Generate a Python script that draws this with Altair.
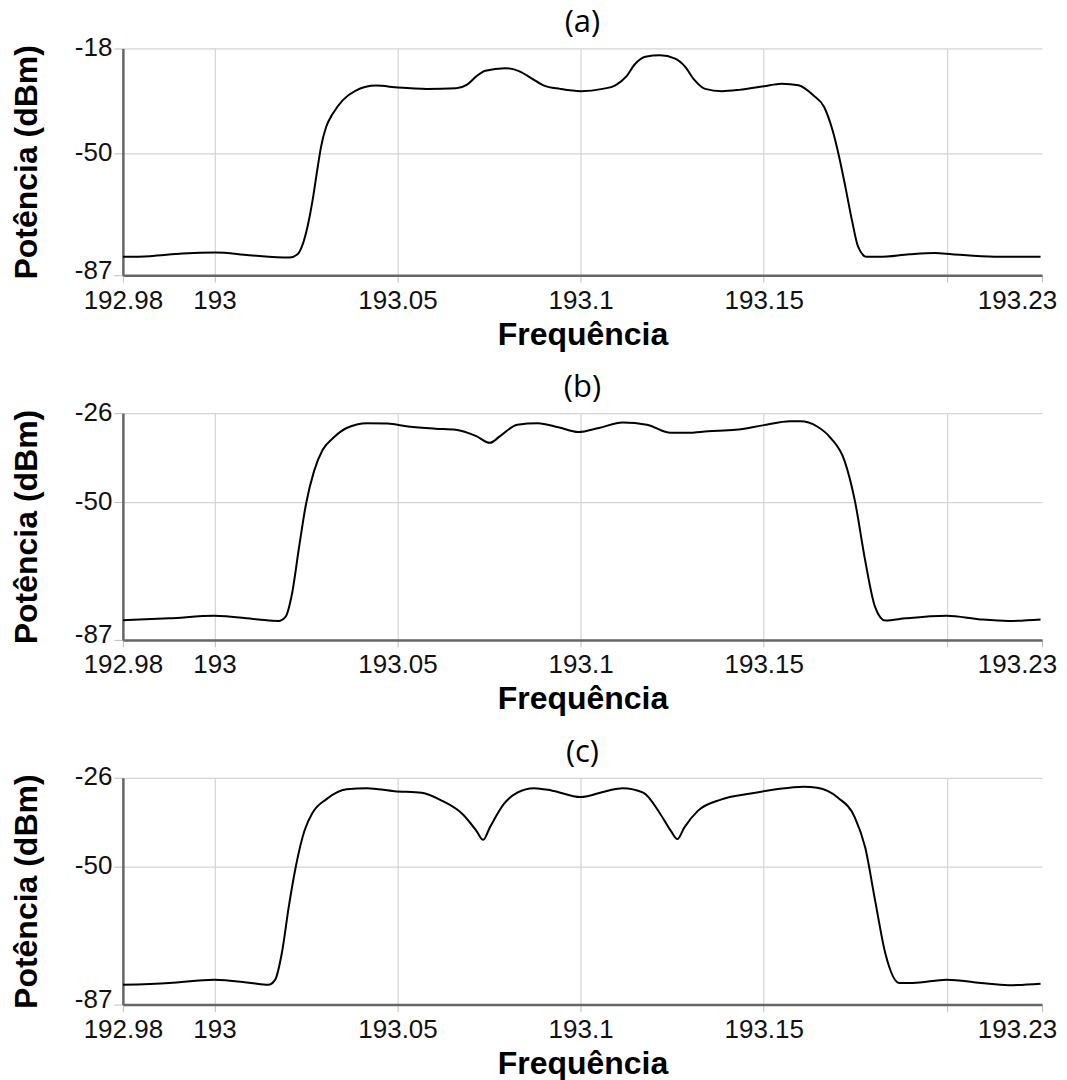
import altair as alt
import pandas as pd

# ---------------- data ----------------
freq_a = [192.975, 192.9823, 192.9913, 193.0003, 193.0095, 193.0205, 193.0227, 193.024, 193.0254,
          193.0268, 193.0282, 193.0291, 193.0305, 193.0323, 193.035, 193.0386, 193.0441, 193.0502,
          193.058, 193.066, 193.069, 193.0715, 193.074, 193.0793, 193.083, 193.0865, 193.09,
          193.0944, 193.1, 193.106, 193.1095, 193.1125, 193.1148, 193.1177, 193.1217, 193.1258,
          193.1285, 193.131, 193.134, 193.1386, 193.1433, 193.15, 193.1549, 193.1595, 193.1636,
          193.1665, 193.1688, 193.1706, 193.1723, 193.1741, 193.1758, 193.1781, 193.1816, 193.1898,
          193.1967, 193.2014, 193.213, 193.2256]
pow_a = [-81.4, -81.2, -80.4, -80.1, -80.9, -81.6, -80.6, -77.9, -72.3,
         -64.2, -54.1, -48.0, -41.9, -37.9, -33.8, -30.8, -29.3, -29.9,
         -30.3, -30.1, -29.0, -26.5, -24.8, -24.0, -24.8, -27.0, -29.3,
         -30.3, -31.0, -30.3, -29.2, -26.5, -22.8, -20.5, -20.1, -21.1,
         -23.5, -27.5, -30.3, -31.0, -30.6, -29.5, -28.7, -29.2, -32.3,
         -35.8, -42.9, -51.0, -60.1, -70.3, -78.4, -81.4, -81.4, -80.6,
         -80.2, -80.6, -81.4, -81.4]

freq_b = [192.975, 192.9877, 193.0, 193.0119, 193.0175, 193.0194, 193.0212, 193.0231, 193.025,
          193.0272, 193.0296, 193.0324, 193.0361, 193.0417, 193.0473, 193.0529, 193.0603, 193.0659,
          193.0715, 193.0752, 193.078, 193.0827, 193.0883, 193.0939, 193.0994, 193.105, 193.1115,
          193.1181, 193.1246, 193.1292, 193.1348, 193.1423, 193.1497, 193.1572, 193.16, 193.1646,
          193.1683, 193.1721, 193.1749, 193.1777, 193.1804, 193.1832, 193.1888, 193.2, 193.2093,
          193.2168, 193.2256]
pow_b = [-81.7, -81.2, -80.5, -81.5, -81.9, -80.8, -74.5, -62.1, -50.5,
         -41.6, -35.8, -32.7, -30.0, -28.7, -28.8, -29.6, -30.2, -30.5,
         -32.2, -34.0, -32.2, -29.1, -28.7, -29.8, -31.1, -30.0, -28.5,
         -29.1, -31.3, -31.3, -30.9, -30.5, -29.3, -28.2, -28.2, -29.6,
         -32.7, -38.9, -49.6, -65.6, -78.1, -81.8, -81.2, -80.5, -81.5,
         -81.9, -81.5]

freq_c = [192.975, 192.9877, 193.0, 193.01, 193.0147, 193.0166, 193.0184, 193.0203, 193.0222,
          193.0246, 193.0268, 193.0305, 193.0361, 193.0417, 193.0492, 193.0566, 193.0622, 193.0678,
          193.0715, 193.0734, 193.0752, 193.079, 193.0827, 193.0873, 193.092, 193.1, 193.1069,
          193.1115, 193.1171, 193.1218, 193.1246, 193.1264, 193.1283, 193.132, 193.1385, 193.146,
          193.1534, 193.1609, 193.1646, 193.1702, 193.1749, 193.1777, 193.1804, 193.1832, 193.187,
          193.1907, 193.2, 193.2093, 193.2168, 193.2256]
pow_c = [-81.7, -81.2, -80.3, -81.2, -81.7, -80.3, -73.2, -60.7, -50.0,
         -40.2, -35.4, -31.8, -29.1, -28.8, -29.6, -30.0, -32.2, -35.8,
         -40.2, -42.7, -39.4, -33.1, -30.0, -28.8, -29.4, -31.2, -29.6,
         -28.8, -30.0, -35.8, -40.2, -42.5, -39.4, -34.9, -31.8, -30.3,
         -29.1, -28.4, -28.7, -31.3, -36.7, -44.7, -58.9, -73.2, -81.2,
         -81.2, -80.3, -81.2, -81.8, -81.4]

panel_titles = ["(a)", "(b)", "(c)"]
y_tops = [-18, -26, -26]
y_bottom = -87
x_domain = [192.975, 193.226]
x_ticks = [192.975, 193.0, 193.05, 193.1, 193.15, 193.2, 193.226]

label_expr = ("datum.value < 192.99 ? '192.98' : datum.value > 193.22 ? '193.23' : "
              "abs(datum.value - 193.2) < 0.001 ? '' : datum.label")


def panel(freq, power, title, top):
    df = pd.DataFrame({"f": freq, "p": power})
    return alt.Chart(df).mark_line(
        color="black", strokeWidth=2, interpolate="monotone", clip=True
    ).encode(
        x=alt.X(
            "f:Q",
            scale=alt.Scale(domain=x_domain, nice=False, zero=False),
            axis=alt.Axis(
                values=x_ticks,
                format=".6~f",
                title="Frequência",
                labelExpr=label_expr,
                labelFlush=False,
                labelOverlap=False,
                labelOffset={"condition": {"test": "datum.value > 193.22", "value": -25},
                             "value": 0},
                gridColor={"condition": {"test": "datum.value > 193.22", "value": "transparent"},
                           "value": "#d4d4d4"},
                tickSize=7,
                labelPadding=5,
                titlePadding=6,
            ),
        ),
        y=alt.Y(
            "p:Q",
            scale=alt.Scale(domain=[y_bottom, top], nice=False, zero=False),
            axis=alt.Axis(
                values=[y_bottom, -50, top],
                labelExpr="'' + datum.value",
                title="Potência (dBm)",
                labelFlush=False,
                labelOverlap=False,
                labelOffset={"condition": {"test": "datum.value < -80", "value": -5},
                             "value": -1},
                tickSize=9,
                labelPadding=2,
                titlePadding=31,
            ),
        ),
    ).properties(
        width=920,
        height=227,
        title=alt.TitleParams(title, font="Open Sans", fontSize=31, fontWeight="normal",
                              color="black", offset=-5, frame="group"),
    )


charts = [panel(f, p, t, top) for f, p, t, top in
          zip([freq_a, freq_b, freq_c], [pow_a, pow_b, pow_c], panel_titles, y_tops)]

chart = alt.vconcat(*charts, spacing=22).properties(
    padding={"left": 10, "top": 7, "right": 10, "bottom": 0},
    background="white",
).configure_view(
    stroke=None
).configure_axis(
    labelFont="Liberation Sans",
    labelFontSize=26,
    labelColor="#111",
    titleFont="Liberation Sans",
    titleFontSize=32,
    titleFontWeight="bold",
    titleColor="black",
    gridColor="#d4d4d4",
    gridWidth=1.2,
    tickColor="#bdbdbd",
    domainColor="#666",
    domainWidth=2.5,
)

chart.save("out.html", embed_options={"renderer": "svg", "actions": False})
